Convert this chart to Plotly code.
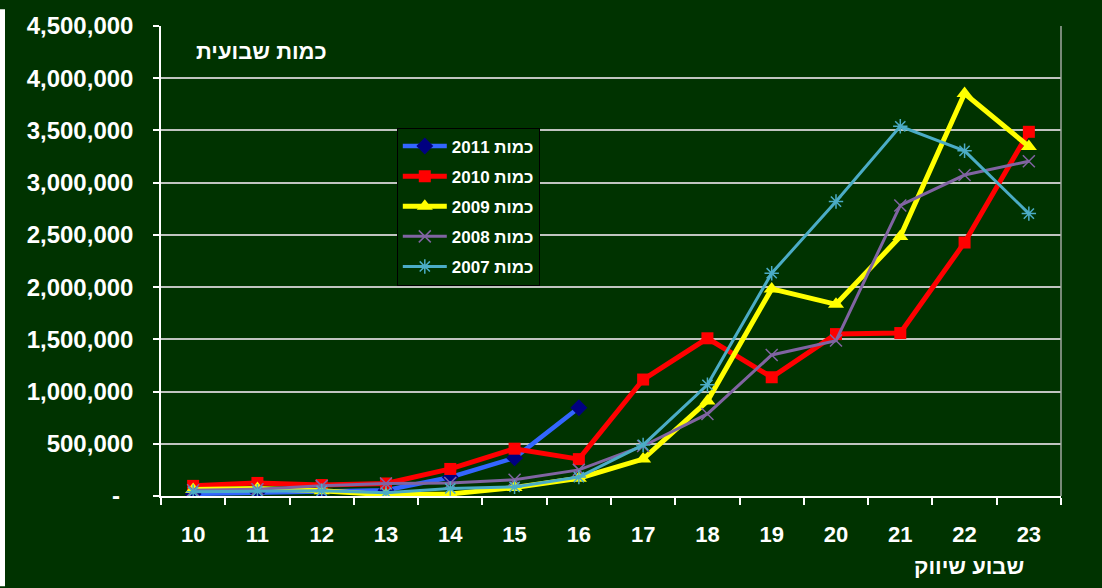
import plotly.graph_objects as go

weeks = ["10", "11", "12", "13", "14", "15", "16", "17", "18", "19", "20", "21", "22", "23"]
q2011 = [20000, 35000, 40000, 55000, 180000, 365000, 845000]
q2010 = [97000, 125000, 105000, 120000, 259000, 453000, 353000, 1115000, 1510000, 1137000, 1550000, 1560000, 2427000, 3487000]
q2009 = [63000, 72000, 50000, 12000, 20000, 82000, 170000, 354000, 909000, 1983000, 1835000, 2484000, 3853000, 3346000]
q2008 = [55000, 65000, 97000, 120000, 125000, 156000, 250000, 479000, 786000, 1350000, 1488000, 2782000, 3073000, 3205000]
q2007 = [40000, 47000, 50000, 31000, 72000, 87000, 181000, 489000, 1065000, 2133000, 2819000, 3540000, 3305000, 2704000]

series_names = ["2011 כמות", "2010 כמות", "2009 כמות", "2008 כמות", "2007 כמות"]
y_tickvals = [0, 500000, 1000000, 1500000, 2000000, 2500000, 3000000, 3500000, 4000000, 4500000]
y_ticktext = ["-\u00a0\u00a0", "500,000", "1,000,000", "1,500,000", "2,000,000", "2,500,000",
              "3,000,000", "3,500,000", "4,000,000", "4,500,000"]
chart_title = "כמות שבועית"
x_title = "שבוע שיווק"

BG = "#003300"
FONT = "Liberation Sans, Arial, sans-serif"

fig = go.Figure()
fig.add_trace(go.Scatter(x=weeks[:len(q2011)], y=q2011, name=series_names[0], mode="lines+markers",
                         legendgroup="a",
                         line=dict(color="#3366FF", width=4.5),
                         marker=dict(symbol="diamond", size=13, color="#000080")))
fig.add_trace(go.Scatter(x=weeks, y=q2010, name=series_names[1], mode="lines+markers",
                         legendgroup="b",
                         line=dict(color="#FF0000", width=5),
                         marker=dict(symbol="square", size=12, color="#FF0000")))
fig.add_trace(go.Scatter(x=weeks, y=q2009, name=series_names[2], mode="lines+markers",
                         legendgroup="c",
                         line=dict(color="#FFFF00", width=5),
                         marker=dict(symbol="triangle-up", size=14, color="#FFFF00")))
fig.add_trace(go.Scatter(x=weeks, y=q2008, name=series_names[3], mode="lines+markers",
                         legendgroup="d",
                         line=dict(color="#8064A2", width=3),
                         marker=dict(symbol="x-thin-open", size=12, color="#8064A2",
                                     line=dict(width=1.5, color="#8064A2"))))
fig.add_trace(go.Scatter(x=weeks, y=q2007, name=series_names[4], mode="lines+markers",
                         legendgroup="e",
                         line=dict(color="#4BACC6", width=3),
                         marker=dict(symbol="asterisk-open", size=12, color="#4BACC6",
                                     line=dict(width=1.5, color="#4BACC6"))))

fig.update_layout(
    width=1102, height=588,
    margin=dict(l=161, r=41, t=17, b=92),
    paper_bgcolor=BG, plot_bgcolor=BG,
    font=dict(family=FONT, size=22, color="white", weight="bold"),
    showlegend=True,
    legend=dict(x=0.262, y=0.784, xanchor="left", yanchor="top",
                bgcolor=BG, bordercolor="#000000", borderwidth=1,
                font=dict(family=FONT, size=17, color="white", weight="bold"),
                tracegroupgap=5, itemwidth=44),
    xaxis=dict(type="category", categoryorder="array", categoryarray=weeks,
               tickvals=weeks, ticktext=weeks, range=[-0.5, 13.5],
               tickson="boundaries", ticks="outside", ticklen=7, tickcolor="white", tickwidth=1.5,
               showgrid=False, showline=True, linecolor="white", linewidth=1.5,
               ticklabelstandoff=18, zeroline=False, fixedrange=True),
    yaxis=dict(range=[0, 4500000], tickvals=y_tickvals, ticktext=y_ticktext,
               tickfont=dict(size=24),
               ticks="outside", ticklen=6, tickcolor="white", tickwidth=1.5,
               showgrid=True, gridcolor="#c0c4c0", gridwidth=1.5,
               showline=True, linecolor="white", linewidth=1.5,
               zeroline=False, ticklabelstandoff=15, fixedrange=True),
    annotations=[
        dict(text=chart_title, xref="paper", yref="paper", x=0.112, y=0.946,
             xanchor="center", yanchor="middle", showarrow=False,
             font=dict(family=FONT, size=22, color="white", weight="bold")),
        dict(text=x_title, xref="paper", yref="paper", x=0.898, y=-0.150,
             xanchor="center", yanchor="middle", showarrow=False,
             font=dict(family=FONT, size=22, color="white", weight="bold")),
    ],
    shapes=[
        dict(type="line", xref="paper", yref="paper", x0=1, x1=1, y0=0, y1=1,
             line=dict(color="#a0a8a0", width=1.5)),
        dict(type="rect", xref="paper", yref="paper", x0=-161/900, x1=-156/900, y0=-92/479, y1=(479+17)/479,
             fillcolor="white", line=dict(width=0)),
    ],
)

fig.write_html("out.html", config={"displayModeBar": False},
               post_script="document.body.style.margin='0';")
